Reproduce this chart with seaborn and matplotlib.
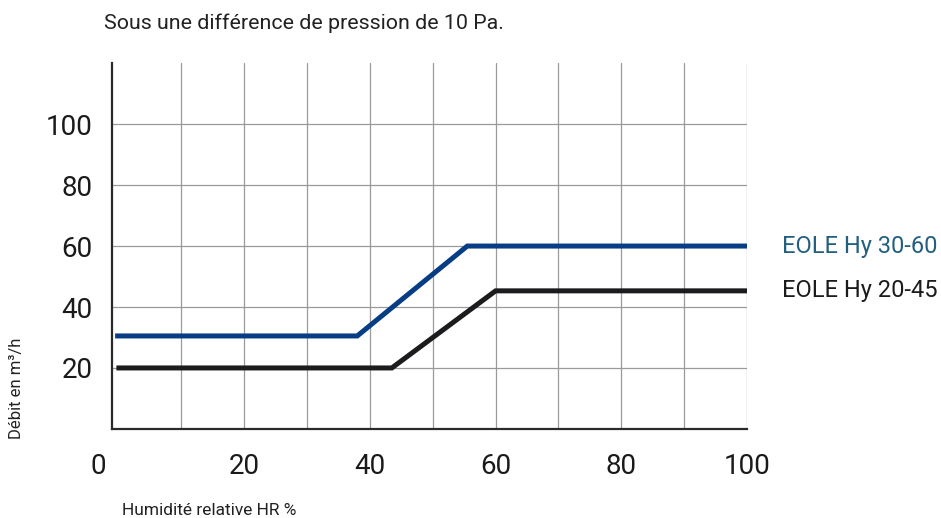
import warnings
warnings.filterwarnings("ignore")
import numpy as np
import pandas as pd
import seaborn as sns
import matplotlib.pyplot as plt
from matplotlib.transforms import ScaledTranslation

# lecture du graphique : debit (m3/h) en fonction de l'humidite relative (%)
hr_30_60 = [-0.5, 38, 55.5, 100]
debit_30_60 = [30.5, 30.5, 60, 60]
hr_20_45 = [-0.3, 43.5, 60, 100]
debit_20_45 = [20, 20, 45.3, 45.3]
noms = ['EOLE Hy 30-60', 'EOLE Hy 20-45']

x_ticks = [0, 20, 40, 60, 80, 100]
y_ticks = [20, 40, 60, 80, 100]

df = pd.concat([
    pd.DataFrame({'hr': hr_30_60, 'debit': debit_30_60, 'modele': noms[0]}),
    pd.DataFrame({'hr': hr_20_45, 'debit': debit_20_45, 'modele': noms[1]}),
])

sns.set_style("white")
plt.rcParams['font.family'] = ['Roboto', 'DejaVu Sans']

fig = plt.figure(figsize=(9.41, 5.18), dpi=100)
ax = fig.add_axes([0.119, 0.172, 0.675, 0.706])

couleurs = {noms[0]: '#063d84', noms[1]: '#1c1c1e'}
sns.lineplot(data=df, x='hr', y='debit', hue='modele', palette=couleurs,
             linewidth=3.6, legend=False, ax=ax, sort=False,
             solid_joinstyle='miter', solid_capstyle='butt')

ax.set_xlim(-1, 100)
ax.set_ylim(0, 120)
ax.set_xticks(x_ticks)
ax.set_xticks(np.arange(10, 101, 20), minor=True)
ax.set_yticks(y_ticks)
ax.grid(True, which='both', axis='x', color='#9a9a9a', linewidth=0.9)
ax.grid(True, which='major', axis='y', color='#9a9a9a', linewidth=0.9)
ax.get_xgridlines()[0].set_visible(False)
ax.set_axisbelow(True)
ax.tick_params(which='both', length=0)
ax.tick_params(axis='y', labelsize=20, pad=14, colors='#1a1a1a')
ax.tick_params(axis='x', labelsize=20, pad=17, colors='#1a1a1a')

for s in ['top', 'right']:
    ax.spines[s].set_visible(False)
for s in ['left', 'bottom']:
    ax.spines[s].set_color('#2a2a2a')
    ax.spines[s].set_linewidth(1.6)

# le "0" est decale a gauche de l'axe
lbl0 = ax.get_xticklabels()[0]
lbl0.set_transform(lbl0.get_transform() + ScaledTranslation(-0.2, 0, fig.dpi_scale_trans))

ax.set_xlabel('')
ax.set_ylabel('')
fig.text(0.130, 0.006, 'Humidité relative HR %', fontsize=12.5, color='#222222')
fig.text(0.018, 0.251, 'Débit en m³/h', fontsize=12, color='#222222',
         rotation=90, va='center', ha='center')
fig.text(0.111, 0.955, 'Sous une différence de pression de 10 Pa.', fontsize=15.4,
         color='#222222', va='center')

ax.text(1.055, debit_30_60[-1], noms[0], transform=ax.get_yaxis_transform(),
        fontsize=17, color='#23607f', va='center')
ax.text(1.055, debit_20_45[-1], noms[1], transform=ax.get_yaxis_transform(),
        fontsize=17, color='#1c1c1e', va='center')

fig.savefig('out.png', dpi=100)
